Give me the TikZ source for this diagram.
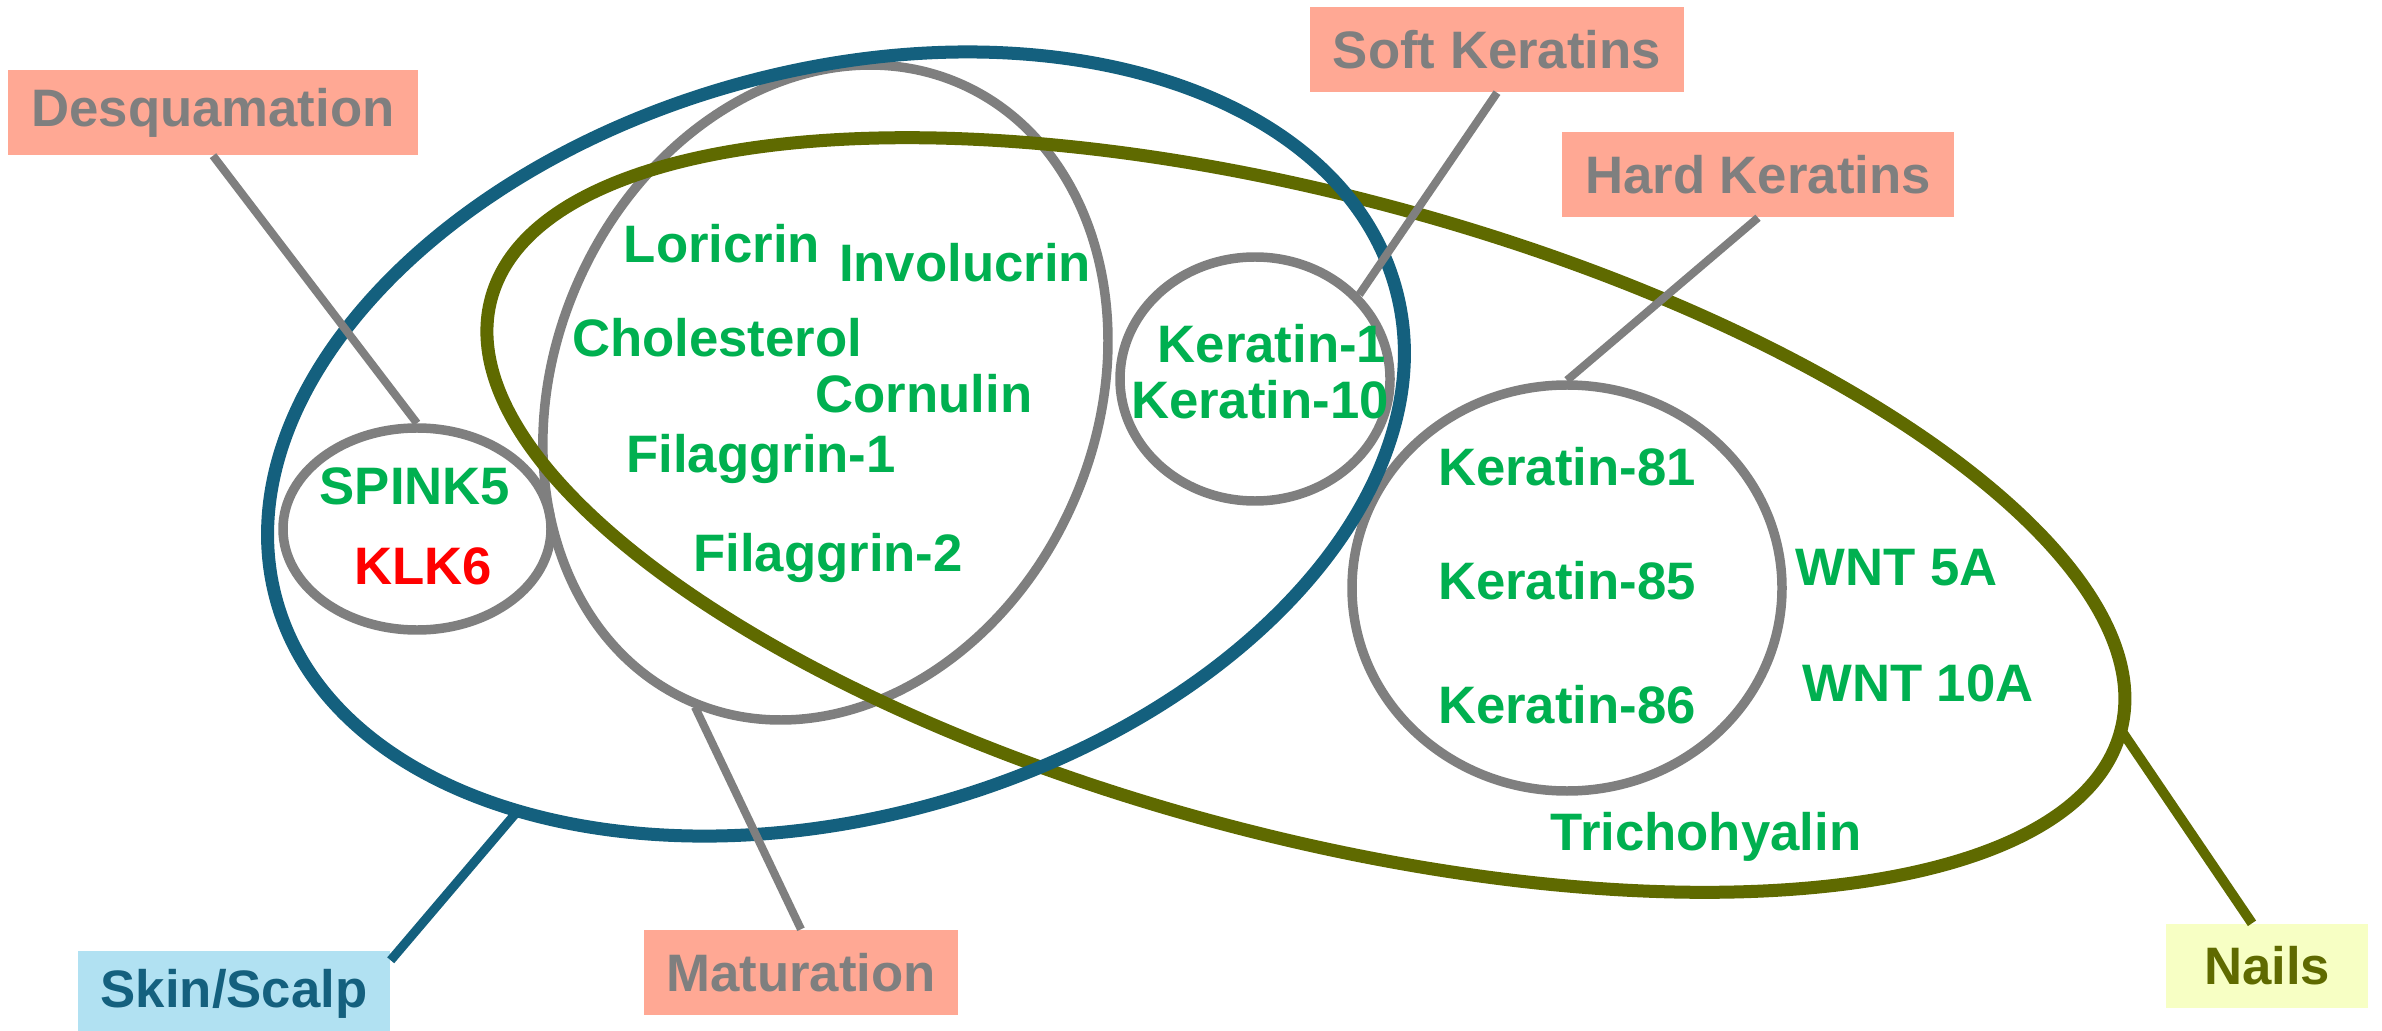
\documentclass[tikz,border=0pt]{standalone}
\usepackage{fontspec}
\setmainfont{Liberation Sans}
\usetikzlibrary{positioning,shapes.geometric}
\definecolor{skinblue}{HTML}{14607E}
\definecolor{nailolive}{HTML}{5F6A00}
\definecolor{ringgray}{HTML}{7F7F7F}
\definecolor{genegreen}{HTML}{00B050}
\definecolor{tagsalmon}{HTML}{FFA894}
\definecolor{skinfill}{HTML}{B1E1F2}
\definecolor{nailfill}{HTML}{F7FFC4}

\begin{document}
\begin{tikzpicture}[x=1cm, y=1cm,
    every node/.style={font=\fontsize{15}{18}\selectfont\bfseries},
    ring/.style={draw=ringgray, line width=2.7pt, ellipse, inner sep=0pt},
    tagbox/.style={fill=tagsalmon, text=ringgray, minimum height=0.85cm, inner sep=0pt},
    gene/.style={text=genegreen, anchor=base, inner sep=0pt},
    lead/.style={ringgray, line width=2.3pt}]
  \useasboundingbox (0,0) rectangle (23.82,10.30);
  % centres of the big tilted sets
  \coordinate (skinc) at (8.36,5.86);
  \coordinate (nailc) at (13.06,5.15);
  \coordinate (matc) at (8.255,6.375);
  % small sets
  \node[ring, minimum width=2.68cm, minimum height=2.02cm] (spinkring) at (4.17,5.01) {};
  \node[ring, minimum width=2.70cm, minimum height=2.44cm] (softring) at (12.55,6.51) {};
  \node[ring, minimum width=4.30cm, minimum height=4.06cm] (hardring) at (15.67,4.42) {};
  \draw[draw=ringgray, line width=2.7pt, rotate around={-23.5:(matc)}]
    (matc) ellipse [x radius=2.71, y radius=3.37];
  % nails and skin
  \draw[nailolive, line width=3.7pt, rotate around={-14.85:(nailc)}]
    (nailc) ellipse [x radius=8.43, y radius=3.2];
  \draw[skinblue, line width=3.7pt, rotate around={15.7:(skinc)}]
    (skinc) ellipse [x radius=5.81, y radius=3.73];
  % genes
  \node[gene] (spink) at (4.15,5.26) {SPINK5};
  \node[gene, text=red] (klk) at (4.23,4.46) {KLK6};
  \foreach \nm/\x/\y/\lab in {lor/7.22/7.67/Loricrin, inv/9.65/7.48/Involucrin,
      chol/7.17/6.73/Cholesterol, corn/9.24/6.17/Cornulin,
      filone/7.61/5.57/Filaggrin-1, filtwo/8.28/4.59/Filaggrin-2,
      krtone/12.72/6.67/Keratin-1, krtten/12.60/6.12/Keratin-10,
      krteo/15.67/5.45/Keratin-81, krtef/15.67/4.31/Keratin-85,
      krtes/15.67/3.07/Keratin-86, wntf/18.97/4.45/WNT 5A,
      wntt/19.18/3.29/WNT 10A, tch/17.06/1.80/Trichohyalin}{
    \node[gene] (\nm) at (\x,\y) {\lab};
  }
  % tags
  \node[tagbox, minimum width=4.10cm] (desq) at (2.13,9.175) {Desquamation};
  \node[tagbox, minimum width=3.74cm] (soft) at (14.97,9.805) {Soft Keratins};
  \node[tagbox, minimum width=3.92cm] (hard) at (17.58,8.555) {Hard Keratins};
  \node[tagbox, minimum width=3.14cm] (mat) at (8.01,0.575) {Maturation};
  \node[tagbox, fill=skinfill, text=skinblue, minimum width=3.12cm] (skin) at (2.34,0.365) {Skin/Scalp};
  \node[tagbox, fill=nailfill, text=nailolive, minimum width=2.02cm, minimum height=0.84cm] (nails) at (22.67,0.64) {Nails};
  % leader lines
  \coordinate (skinpt) at (5.16,2.17);
  \coordinate (matpt) at (6.95,3.23);
  \coordinate (nailpt) at (21.21,3.00);
  \draw[lead] (desq.south) -- (spinkring.north);
  \draw[lead] (soft.south) -- (softring.39);
  \draw[lead] (hard.south) -- (hardring.north);
  \draw[lead] (mat.north) -- (matpt);
  \draw[skinblue, line width=2.6pt] ([yshift=-1mm]skin.north east) -- (skinpt);
  \draw[nailolive, line width=2.8pt] ([xshift=-1.5mm]nails.north) -- (nailpt);
\end{tikzpicture}
\end{document}
